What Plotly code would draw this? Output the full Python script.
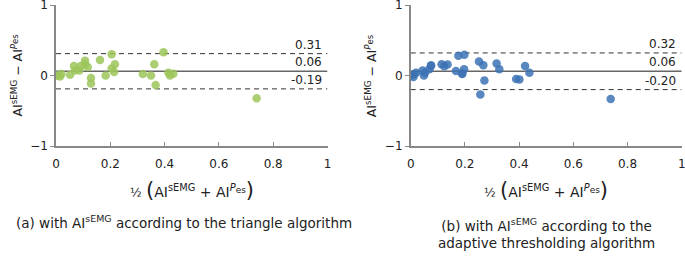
import plotly.graph_objects as go

# ---------------- data ----------------
a_mean = [0.0, 0.009, 0.015, 0.02, 0.052, 0.066, 0.07, 0.086, 0.091, 0.107, 0.107, 0.117,
          0.129, 0.129, 0.162, 0.183, 0.205, 0.205, 0.214, 0.217, 0.32, 0.35, 0.362,
          0.367, 0.396, 0.414, 0.42, 0.432, 0.739]
a_diff = [0.0, 0.0, -0.015, 0.02, 0.01, 0.135, 0.07, 0.07, 0.135, 0.21, 0.16, 0.12,
          -0.035, -0.115, 0.22, 0.0, 0.30, 0.10, 0.05, 0.16, 0.02, 0.0, 0.16,
          -0.135, 0.33, 0.04, 0.0, 0.025, -0.324]
a_limits = [0.31, 0.06, -0.19]   # upper LoA, bias, lower LoA
a_labels = ["0.31", "0.06", "-0.19"]

b_mean = [0.0, 0.01, 0.013, 0.02, 0.044, 0.049, 0.053, 0.069, 0.075, 0.075, 0.114, 0.124,
          0.136, 0.167, 0.176, 0.198, 0.197, 0.19, 0.19, 0.252, 0.268, 0.272, 0.257,
          0.317, 0.327, 0.389, 0.401, 0.422, 0.438, 0.738]
b_diff = [0.0, -0.02, 0.02, 0.04, 0.07, 0.0, 0.04, 0.09, 0.145, 0.135, 0.16, 0.13,
          0.155, 0.065, 0.28, 0.295, 0.09, 0.02, 0.03, 0.2, 0.145, -0.07, -0.27,
          0.17, 0.09, -0.05, -0.055, 0.135, 0.04, -0.333]
b_limits = [0.32, 0.06, -0.20]
b_labels = ["0.32", "0.06", "-0.20"]

x_range = [0, 1]
y_range = [-1, 1]
x_ticks = [0, 0.2, 0.4, 0.6, 0.8, 1]
x_ticktext = ["0", "0.2", "0.4", "0.6", "0.8", "1"]
y_ticks = [-1, 0, 1]
y_ticktext = ["\u22121", "0", "1"]

captions = ["(a) with AI<sup>sEMG</sup> according to the triangle algorithm",
            "(b) with AI<sup>sEMG</sup> according to the<br>adaptive thresholding algorithm"]

# ---------------- layout helpers ----------------
W, H = 685, 257
FONT = "DejaVu Sans"
px = lambda v: v / W
py = lambda v: (H - v) / H

fig = go.Figure()

panels = [
    dict(xm=a_mean, yd=a_diff, lim=a_limits, lab=a_labels, color="#9cc65a", xa="x", ya="y",
         x0=56, x1=327.5),
    dict(xm=b_mean, yd=b_diff, lim=b_limits, lab=b_labels, color="#3c72b4", xa="x2", ya="y2",
         x0=410.7, x1=681.7),
]

for p in panels:
    for i, v in enumerate(p["lim"]):
        fig.add_trace(go.Scatter(
            x=x_range, y=[v, v], mode="lines", xaxis=p["xa"], yaxis=p["ya"],
            line=dict(color="#333" if i != 1 else "#666", width=1 if i != 1 else 1.5,
                      dash="5px,4px" if i != 1 else "solid"),
            hoverinfo="skip", showlegend=False))
    fig.add_trace(go.Scatter(
        x=p["xm"], y=p["yd"], mode="markers", xaxis=p["xa"], yaxis=p["ya"],
        marker=dict(size=8.5, color=p["color"], opacity=0.85, line=dict(width=0)),
        showlegend=False))
    for v, t in zip(p["lim"], p["lab"]):
        fig.add_annotation(x=x_range[1], y=v, xref=p["xa"], yref=p["ya"], text=t,
                           showarrow=False, xanchor="right", yanchor="bottom",
                           xshift=-4, yshift=0, font=dict(size=12, color="#222", family=FONT))

axis_common = dict(showgrid=False, zeroline=False, showline=True, linecolor="#888",
                   linewidth=1.5, ticklen=4, tickcolor="#888",
                   automargin=False, ticklabeloverflow="allow",
                   tickfont=dict(size=12, color="#222", family=FONT))

fig.update_layout(
    width=W, height=H, margin=dict(l=0, r=0, t=0, b=0, autoexpand=False),
    paper_bgcolor="white", plot_bgcolor="white",
    xaxis=dict(domain=[px(56), px(327.5)], range=x_range, tickvals=x_ticks, ticks="inside",
               ticktext=x_ticktext, anchor="y", ticklabelstandoff=6, **axis_common),
    yaxis=dict(domain=[py(146), py(5)], range=y_range, tickvals=y_ticks, ticks="outside",
               ticktext=y_ticktext, anchor="x", **axis_common),
    xaxis2=dict(domain=[px(410.7), px(681.7)], range=x_range, tickvals=x_ticks, ticks="inside",
                ticktext=x_ticktext, anchor="y2", ticklabelstandoff=6, **axis_common),
    yaxis2=dict(domain=[py(146), py(5)], range=y_range, tickvals=y_ticks, ticks="outside",
                ticktext=y_ticktext, anchor="x2", **axis_common),
)

pes = "<sup><i>P</i><sub><span style='font-size:8.5px'>es</span></sub></sup>"
ytitle = "AI<sup>sEMG</sup> \u2212 AI" + pes
pes_x = "<sup><i>P</i><sub><span style='font-size:9px'>es</span></sub></sup>"
xtitle = ("<span style='font-size:12px'>\u00bd</span> <span style='font-size:21px'>(</span>"
          "AI<sup>sEMG</sup> + AI" + pes_x + "<span style='font-size:21px'>)</span>")

for p in panels:
    fig.add_annotation(x=px(p["x0"] - 39), y=py(75.5), xref="paper", yref="paper",
                       xanchor="center", yanchor="middle",
                       text=ytitle, textangle=-90, showarrow=False,
                       font=dict(size=12.5, color="#222", family=FONT))
    fig.add_annotation(x=px((p["x0"] + p["x1"]) / 2), y=py(190), xref="paper", yref="paper",
                       xanchor="center", yanchor="middle",
                       text=xtitle, showarrow=False,
                       font=dict(size=14, color="#222", family=FONT))

fig.add_annotation(x=px(183.5), y=py(222), xref="paper", yref="paper", text=captions[0],
                   xanchor="center", yanchor="middle",
                   showarrow=False, font=dict(size=13.5, color="#222", family=FONT))
fig.add_annotation(x=px(546), y=py(233.5), xref="paper", yref="paper", text=captions[1],
                   xanchor="center", yanchor="middle", showarrow=False, align="center",
                   font=dict(size=13.5, color="#222", family=FONT))

fig.write_html("out.html", post_script="document.body.style.margin='0px';",
               config={"displayModeBar": False})
